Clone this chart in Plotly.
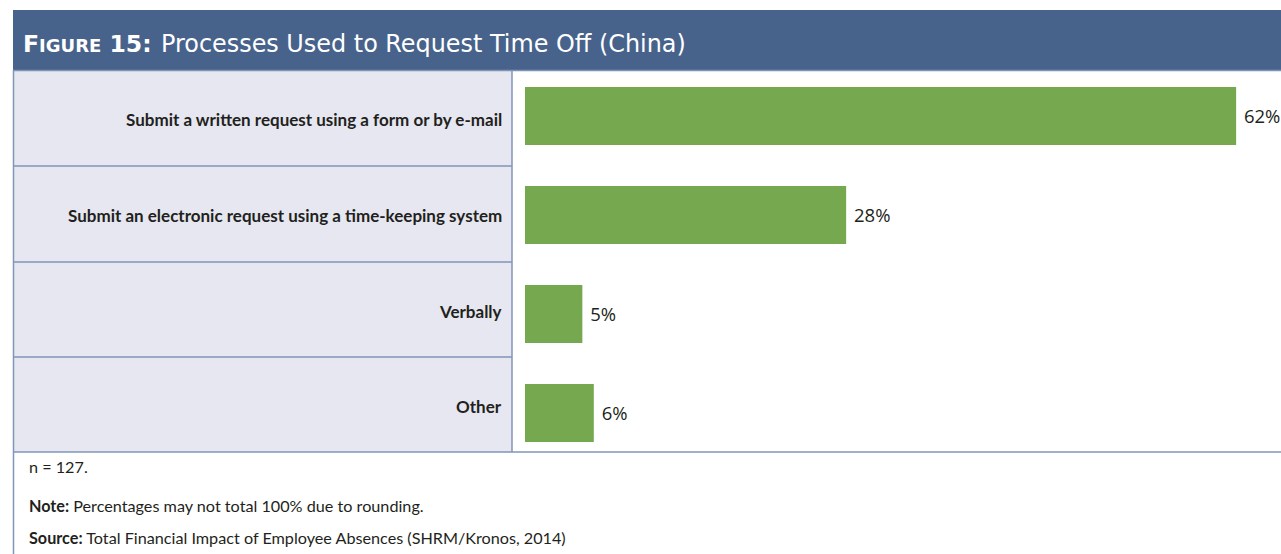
import plotly.graph_objects as go

categories = [
    "Submit a written request using a form or by e-mail",
    "Submit an electronic request using a time-keeping system",
    "Verbally",
    "Other",
]
values = [62, 28, 5, 6]
value_labels = ["62%", "28%", "5%", "6%"]

title_lead = "F<span style='font-size:18px'>IGURE</span> 15:"
title_text = "Processes Used to Request Time Off (China)"
footer_lines = [
    "n = 127.",
    "<b>Note:</b> Percentages may not total 100% due to rounding.",
    "<b>Source:</b> Total Financial Impact of Employee Absences (SHRM/Kronos, 2014)",
]

W, H = 1281, 554
def px(x):
    return x / W
def py(y):
    return 1 - y / H

HEADER_BLUE = "#47638b"
PANEL = "#e6e7f0"
LINE = "#8096b8"
GREEN = "#76a94f"
TEXT = "#231f20"
NARROW = "Lato, sans-serif"

fig = go.Figure()
fig.add_trace(go.Bar(
    x=values,
    y=categories,
    orientation="h",
    marker=dict(color=GREEN, line=dict(width=0)),
    width=0.586,
    text=[" " + t for t in value_labels],
    textposition="outside",
    cliponaxis=False,
    textfont=dict(family="Open Sans, sans-serif", size=18.5, color=TEXT),
    hoverinfo="skip",
))

shapes = []
shapes.append(dict(type="rect", xref="paper", yref="paper", x0=px(13), x1=px(1281),
                   y0=py(70), y1=py(10), fillcolor=HEADER_BLUE, line=dict(width=0), layer="below"))
shapes.append(dict(type="rect", xref="paper", yref="paper", x0=px(13), x1=px(512),
                   y0=py(452), y1=py(70), fillcolor=PANEL, line=dict(width=0), layer="below"))
row_edges = [70, 166, 262, 357, 452]
for yy in row_edges[1:-1]:
    shapes.append(dict(type="line", xref="paper", yref="paper", x0=px(13), x1=px(512),
                       y0=py(yy), y1=py(yy), line=dict(color=LINE, width=1.5)))
shapes.append(dict(type="line", xref="paper", yref="paper", x0=px(13), x1=px(1281),
                   y0=py(70.5), y1=py(70.5), line=dict(color="#7f93b5", width=1.5)))
shapes.append(dict(type="line", xref="paper", yref="paper", x0=px(512), x1=px(512),
                   y0=py(452), y1=py(70), line=dict(color=LINE, width=1.5)))
shapes.append(dict(type="line", xref="paper", yref="paper", x0=px(13.5), x1=px(13.5),
                   y0=py(554), y1=py(70), line=dict(color=LINE, width=1.5)))
shapes.append(dict(type="line", xref="paper", yref="paper", x0=px(13), x1=px(1281),
                   y0=py(452), y1=py(452), line=dict(color=LINE, width=1.5)))

annotations = []
annotations.append(dict(xref="paper", yref="paper", x=px(21), y=py(44), xanchor="left", yanchor="middle",
                        showarrow=False, text="<b>" + title_lead + "</b>",
                        font=dict(family="DejaVu Sans, sans-serif", size=23.5, color="white")))
annotations.append(dict(xref="paper", yref="paper", x=px(159), y=py(44), xanchor="left", yanchor="middle",
                        showarrow=False, text=title_text,
                        font=dict(family="DejaVu Sans, sans-serif", size=23.9, color="white")))
for i, cat in enumerate(categories):
    yc = (row_edges[i] + row_edges[i + 1]) / 2 + 1.5
    annotations.append(dict(xref="paper", yref="paper", x=px(504), y=py(yc), xanchor="right",
                            yanchor="middle", showarrow=False, text="<b>" + cat + "</b>",
                            font=dict(family=NARROW, size=17, color=TEXT)))
footer_y = [466, 505, 537]
for t, yy in zip(footer_lines, footer_y):
    annotations.append(dict(xref="paper", yref="paper", x=px(27), y=py(yy), xanchor="left",
                            yanchor="middle", showarrow=False, text=t,
                            font=dict(family=NARROW, size=16.2, color=TEXT)))

fig.update_layout(
    width=W, height=H,
    margin=dict(l=0, r=0, t=0, b=0),
    paper_bgcolor="white",
    plot_bgcolor="rgba(0,0,0,0)",
    showlegend=False,
    shapes=shapes,
    annotations=annotations,
    xaxis=dict(domain=[px(525), 1], range=[0, 756 / 11.47], visible=False, fixedrange=True),
    yaxis=dict(domain=[py(452), py(70)], range=[3.394, -0.4646], visible=False,
               type="category", categoryorder="array", categoryarray=categories, fixedrange=True),
    bargap=0.4,
)

fig.write_html("out.html")
